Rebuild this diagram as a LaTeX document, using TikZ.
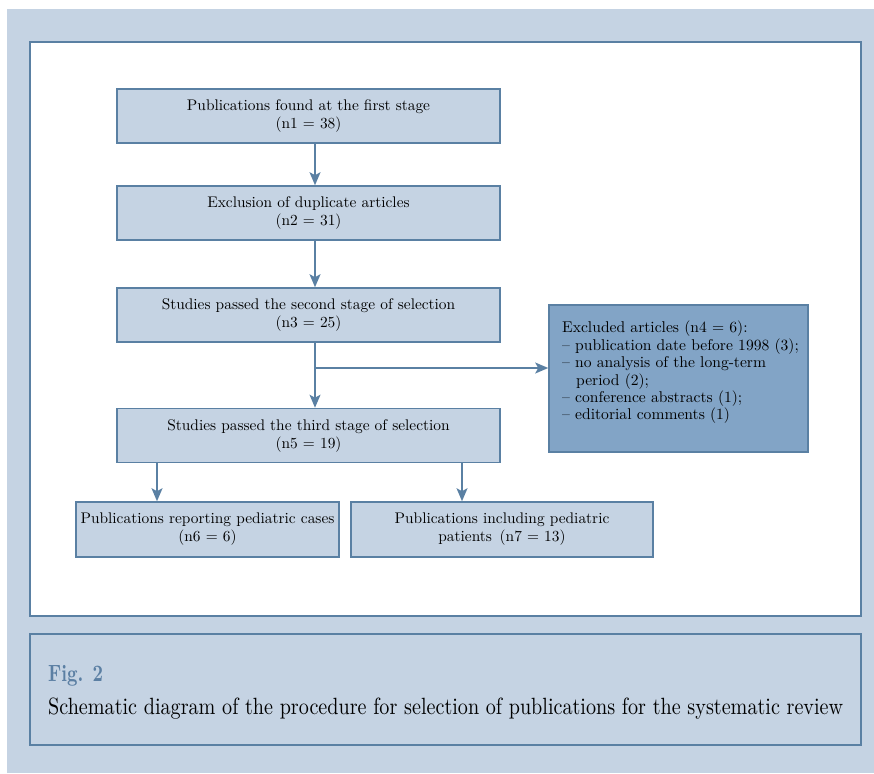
\documentclass[tikz,border=0pt]{standalone}
\usepackage{fontspec}
\setmainfont{lmroman10-regular.otf}[BoldFont=lmroman10-bold.otf]
\usetikzlibrary{arrows.meta}
\definecolor{bgc}{HTML}{C5D3E3}
\definecolor{edgec}{HTML}{5A80A3}
\definecolor{darkc}{HTML}{82A4C6}
\definecolor{figc}{HTML}{5B7FA3}
\begin{document}
\begin{tikzpicture}[x=1pt,y=-1pt,
  box/.style={draw=edgec, line width=1.6pt, fill=bgc, inner sep=0pt, align=center,
    font=\fontsize{15.4}{18}\selectfont},
  exbox/.style={draw=edgec, line width=1.6pt, fill=darkc, inner sep=0pt},
  extext/.style={inner sep=0pt, align=left, text width=245pt, font=\fontsize{15.6}{17.4}\selectfont},
  arr/.style={draw=edgec, line width=1.4pt, -{Stealth[length=13pt,width=11pt,inset=3pt]}}]
\useasboundingbox (0,0) rectangle (874,773);
\fill[white] (0,0) rectangle (874,773);
\fill[bgc] (7,9) rectangle (874,773);
\draw[edgec, line width=2.8pt, fill=white] (30,42) rectangle (861,616);
\draw[edgec, line width=1.5pt] (30,634) rectangle (861,745);

\node[box, minimum width=383pt, minimum height=54pt] (b1) at (308.5,116)
  {Publications found at the first stage\\(n1 = 38)};
\node[box, minimum width=383pt, minimum height=54pt] (b2) at (308.5,213)
  {Exclusion of duplicate articles\\(n2 = 31)};
\node[box, minimum width=383pt, minimum height=54pt] (b3) at (308.5,315)
  {Studies passed the second stage of selection\\(n3 = 25)};
\node[box, minimum width=383pt, minimum height=54pt] (b5) at (308.5,435.5)
  {Studies passed the third stage of selection\\(n5 = 19)};
\node[box, minimum width=263pt, minimum height=55pt] (b6) at (207.5,529.5)
  {Publications reporting pediatric cases\\(n6 = 6)};
\node[box, minimum width=302pt, minimum height=55pt] (b7) at (502,529.5)
  {Publications including pediatric\\patients\enspace(n7 = 13)};
\node[exbox, minimum width=259pt, minimum height=147pt] (ex) at (678.5,378.5) {};
\node[extext, anchor=north west] (ext) at (562,321)
  {Excluded articles (n4 = 6):\\
   – publication date before 1998 (3);\\
   – no analysis of the long-term\\
   \hspace*{14pt}period (2);\\
   – conference abstracts (1);\\
   – editorial comments (1)};

\coordinate (ax) at (315,0);
\coordinate (br) at (315,368);
\coordinate (c6) at (157,0);
\coordinate (c7) at (462,0);
\draw[arr] (b1.south -| ax) -- (b2.north -| ax);
\draw[arr] (b2.south -| ax) -- (b3.north -| ax);
\draw[arr] (b3.south -| ax) -- (b5.north -| ax);
\draw[arr] (br) -- (br -| ex.west);
\draw[arr] (b5.south -| c6) -- (b6.north -| c6);
\draw[arr] (b5.south -| c7) -- (b7.north -| c7);

\node[anchor=base west, inner sep=0pt, text=figc] (fig) at (48,681)
  {\resizebox{55pt}{\height}{\bfseries\fontsize{23.5}{26}\selectfont Fig. 2}};
\node[anchor=base west, inner sep=0pt] (cap) at (48,714)
  {\resizebox{795pt}{\height}{\fontsize{23.5}{27}\selectfont Schematic diagram of the procedure for selection of publications for the systematic review}};
\end{tikzpicture}
\end{document}
